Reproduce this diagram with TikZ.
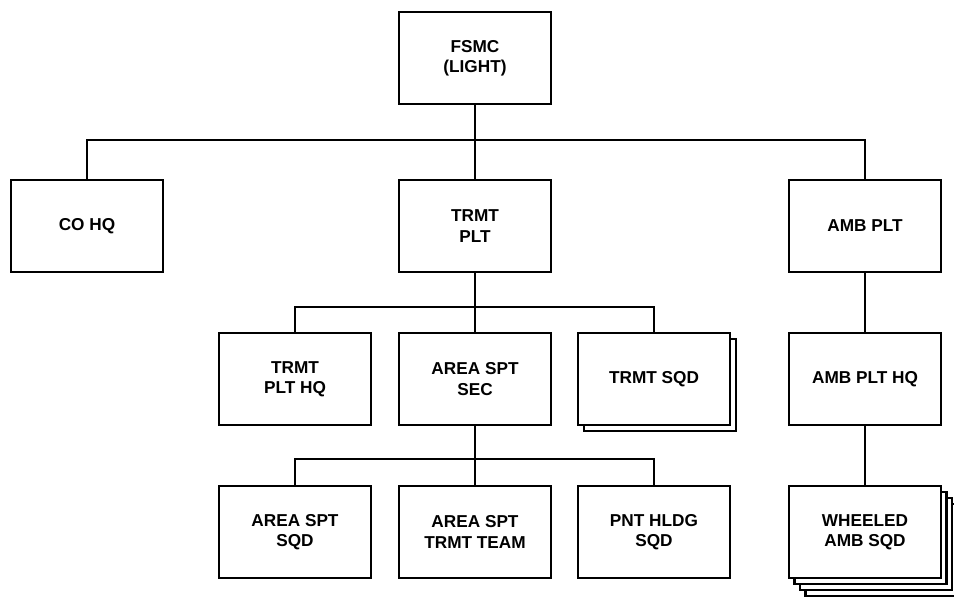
\documentclass[tikz,border=0pt]{standalone}
\usepackage{fontspec}
\setmainfont{Liberation Sans}
\begin{document}
\begin{tikzpicture}[
    unit/.style={draw, line width=1.4pt, fill=white, minimum width=3.04cm,
                 minimum height=1.84cm, inner sep=0pt, align=center,
                 font=\bfseries\fontsize{9.8}{11.6}\selectfont},
    link/.style={line width=1.4pt}]
                \useasboundingbox (0,0) rectangle (19.08,-11.94);
                % bus lines
                \coordinate (bus1) at (0,-2.80);
                \coordinate (bus2) at (0,-6.14);
                \coordinate (bus3) at (0,-9.18);

                % top
                \node[unit] (fsmc) at (9.50,-1.16) {FSMC\\(LIGHT)};

                % first row
                \node[unit] (cohq)    at (1.74,-4.52)  {CO HQ};
                \node[unit] (trmtplt) at (9.50,-4.52)  {TRMT\\PLT};
                \node[unit] (ambplt)  at (17.30,-4.52) {AMB PLT};

                % second row
                \node[unit] (plthq)   at (5.90,-7.58)  {TRMT\\PLT HQ};
                \node[unit] (areasec) at (9.50,-7.58)  {AREA SPT\\SEC};
                \node[unit] (trmtsqd2) at (13.20,-7.70) {};
                \node[unit] (trmtsqd) at (13.08,-7.58) {TRMT SQD};
                \node[unit] (ambhq)   at (17.30,-7.58) {AMB PLT HQ};

                % third row
                \node[unit] (areasqd)  at (5.90,-10.64) {AREA SPT\\SQD};
                \node[unit] (areateam) at (9.50,-10.64) {AREA SPT\\TRMT TEAM};
                \node[unit] (pntsqd)   at (13.08,-10.64) {PNT HLDG\\SQD};
                \foreach \k in {3,2,1}
                  \node[unit] (wheeled\k) at ({17.30+0.11*\k},{-10.64-0.12*\k}) {};
                \node[unit] (wheeled) at (17.30,-10.64) {WHEELED\\AMB SQD};

                % the connectors
                \draw[link] (cohq.north) -- (cohq.north |- bus1)
                                         -- (ambplt.north |- bus1) -- (ambplt.north);
                \draw[link] (fsmc.south) -- (trmtplt.north);
                \draw[link] (plthq.north) -- (plthq.north |- bus2)
                                          -- (trmtsqd.north |- bus2) -- (trmtsqd.north);
                \draw[link] (trmtplt.south) -- (areasec.north);
                \draw[link] (areasqd.north) -- (areasqd.north |- bus3)
                                            -- (pntsqd.north |- bus3) -- (pntsqd.north);
                \draw[link] (areasec.south) -- (areateam.north);
                \draw[link] (ambplt.south) -- (ambhq.north);
                \draw[link] (ambhq.south) -- (wheeled.north);
              \end{tikzpicture}
\end{document}
